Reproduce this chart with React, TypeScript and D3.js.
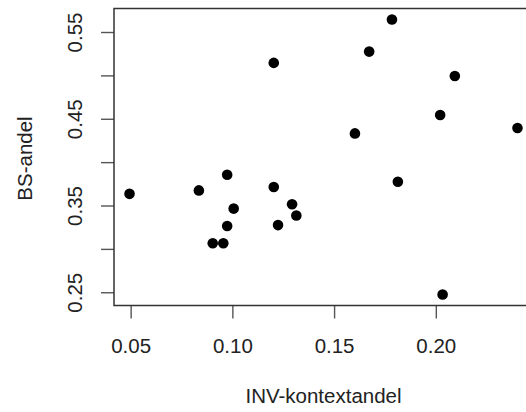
import React from "react";
import * as d3 from "d3";

// INV context share vs BS share, one point per observation
const invShare = [
  0.0492, 0.0833, 0.0972, 0.1004, 0.0972, 0.0901, 0.0953,
  0.1782, 0.167, 0.1201, 0.2091, 0.2019, 0.2399, 0.16,
  0.1201, 0.1811, 0.1291, 0.1312, 0.1222, 0.2031,
];
const bsShare = [
  0.364, 0.368, 0.386, 0.347, 0.327, 0.307, 0.307,
  0.565, 0.528, 0.515, 0.4998, 0.4549, 0.44, 0.4337,
  0.372, 0.378, 0.352, 0.339, 0.328, 0.248,
];
const xTicks = [0.05, 0.1, 0.15, 0.2];
const yTicks = [0.25, 0.3, 0.35, 0.4, 0.45, 0.5, 0.55];
const yLabelled = [0.25, 0.35, 0.45, 0.55];

const W = 526;
const H = 412;
const plot = { left: 114, top: 8.5, right: 533, bottom: 305.5 };

// R-style 4% padding around the data range
function padded(values: number[]): [number, number] {
  const [lo, hi] = d3.extent(values) as [number, number];
  const pad = (hi - lo) * 0.04;
  return [lo - pad, hi + pad];
}

export default function App() {
  const x = d3.scaleLinear().domain(padded(invShare)).range([plot.left, plot.right]);
  const y = d3.scaleLinear().domain(padded(bsShare)).range([plot.bottom, plot.top]);
  const font = "'Liberation Sans', Arial, Helvetica, sans-serif";
  const fs = 20.5;
  const tickLen = 13;
  const cy = (plot.top + plot.bottom) / 2;
  const cx = (plot.left + plot.right) / 2;

  return (
    <svg
      width={W}
      height={H}
      style={{ position: "absolute", left: 0, top: 0, background: "#fff" }}
      fontFamily={font}
    >
      <rect x={0} y={0} width={W} height={H} fill="#fff" />
      {/* x axis */}
      {xTicks.map((t) => (
        <g key={"x" + t}>
          <line x1={x(t)} x2={x(t)} y1={plot.bottom} y2={plot.bottom + tickLen} stroke="#555" strokeWidth={1.4} />
          <text x={x(t)} y={353} fontSize={fs} textAnchor="middle" fill="#222">
            {t.toFixed(2)}
          </text>
        </g>
      ))}
      {/* y axis */}
      {yTicks.map((t) => (
        <line key={"y" + t} x1={plot.left - tickLen} x2={plot.left} y1={y(t)} y2={y(t)} stroke="#555" strokeWidth={1.4} />
      ))}
      {yLabelled.map((t) => (
        <text
          key={"yl" + t}
          transform={`translate(${81.5},${y(t)}) rotate(-90)`}
          fontSize={fs}
          textAnchor="middle"
          fill="#222"
        >
          {t.toFixed(2)}
        </text>
      ))}
      {/* axis titles */}
      <text x={cx} y={403} fontSize={fs} textAnchor="middle" fill="#222">
        INV-kontextandel
      </text>
      <text transform={`translate(${31.5},${cy + 1.5}) rotate(-90)`} fontSize={fs} textAnchor="middle" fill="#222">
        BS-andel
      </text>
      {/* points */}
      {invShare.map((v, i) => (
        <circle key={i} cx={x(v)} cy={y(bsShare[i])} r={5.3} fill="#000" />
      ))}
      {/* plot frame */}
      <rect
        x={plot.left}
        y={plot.top}
        width={plot.right - plot.left}
        height={plot.bottom - plot.top}
        fill="none"
        stroke="#333"
        strokeWidth={1.5}
      />
    </svg>
  );
}
